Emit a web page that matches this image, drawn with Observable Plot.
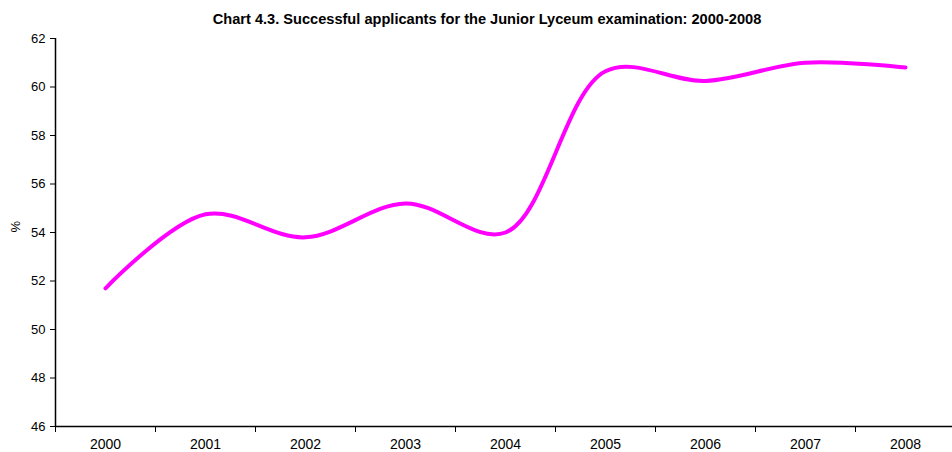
<!DOCTYPE html>
<html>
<head>
<meta charset="utf-8">
<script src="https://cdn.jsdelivr.net/npm/d3@7"></script>
<script src="https://cdn.jsdelivr.net/npm/@observablehq/plot@0.6"></script>
<style>
  html, body { margin: 0; padding: 0; background: #fff; overflow: hidden; }
  #wrap { position: relative; width: 952px; height: 452px; }
  #title {
    position: absolute; left: 0; top: 0;
    width: 952px; height: 30px; box-sizing: border-box;
    padding-top: 11px; padding-left: 22px;
    font: bold 14.6px "Liberation Sans", Arial, Helvetica, sans-serif;
    line-height: 17px; text-align: center; color: #000; white-space: nowrap;
  }
  #chart { position: absolute; left: 0; top: 30px; }
</style>
</head>
<body>
<div id="wrap">
<div id="title">Chart 4.3. Successful applicants for the Junior Lyceum examination: 2000-2008</div>
<div id="chart"></div>
</div>
<script>
const years = [2000, 2001, 2002, 2003, 2004, 2005, 2006, 2007, 2008];
const values = [51.7, 54.75, 53.8, 55.2, 54.0, 60.65, 60.25, 61.0, 60.8];
const yTicks = [46, 48, 50, 52, 54, 56, 58, 60, 62];
const yLabel = "%";

const data = years.map((year, i) => ({year, value: values[i]}));
const boundaries = years.map(y => y - 0.5).concat([years[years.length - 1] + 0.5]);

const chart = Plot.plot({
  width: 952,
  height: 422,
  marginLeft: 55,
  marginRight: -3,
  marginTop: 8,
  marginBottom: 26,
  x: {domain: [years[0] - 0.5, years[years.length - 1] + 0.5]},
  y: {domain: [yTicks[0], yTicks[yTicks.length - 1]]},
  style: {fontFamily: '"Liberation Sans", Arial, Helvetica, sans-serif', color: "#000", background: "#fff", overflow: "visible"},
  marks: [
    Plot.axisY({ticks: yTicks, tickSize: 5, tickPadding: 5, fontSize: 13, label: null, tickFormat: d => String(d)}),
    Plot.axisX({ticks: boundaries, tickSize: 6, tickFormat: () => "", label: null}),
    Plot.axisX({ticks: years, tickSize: 0, tickPadding: 13, fontSize: 14, label: null, tickFormat: d => String(d)}),
    Plot.ruleY([yTicks[0]], {stroke: "#000", strokeWidth: 1.5}),
    Plot.ruleX([years[0] - 0.5], {stroke: "#000", strokeWidth: 1.5}),
    Plot.line(data, {x: "year", y: "value", curve: "catmull-rom", stroke: "#ff00ff", strokeWidth: 4}),
    Plot.text([yLabel], {frameAnchor: "left", dx: -40, rotate: -90, fontSize: 13, fill: "#000"})
  ]
});
document.getElementById("chart").appendChild(chart);
</script>
</body>
</html>
